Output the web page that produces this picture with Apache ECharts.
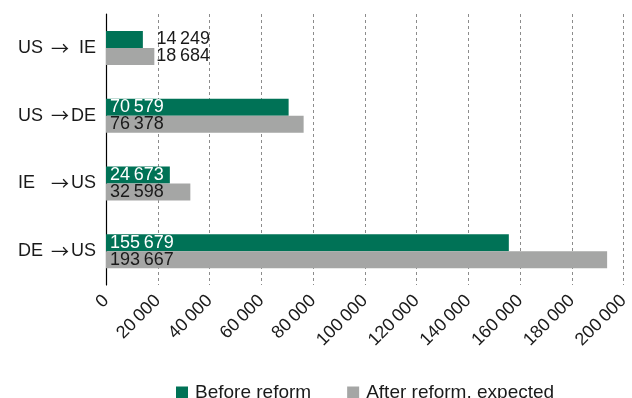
<!DOCTYPE html>
<html>
<head>
<meta charset="utf-8">
<script src="https://cdn.jsdelivr.net/npm/echarts@6/dist/echarts.min.js"></script>
<style>
  html, body { margin: 0; padding: 0; background: #fff; }
  #chart { width: 632px; height: 398px; }
</style>
</head>
<body>
<div id="chart"></div>
<script>
// Flows between countries, before and after the reform
const origins = ['US', 'US', 'IE', 'DE'];
const destinations = ['IE', 'DE', 'US', 'US'];
const routes = origins.map((o, i) => o + ' \u2192 ' + destinations[i]);
const beforeReform = [14249, 70579, 24673, 155679];
const afterReform = [18684, 76378, 32598, 193667];
const seriesNames = ['Before reform', 'After reform, expected'];

const GREEN = '#007256';
const GREY = '#a5a6a5';
const INK = '#1a1a1a';
const FONT = 'Liberation Sans, Arial, sans-serif';
const FS = 18;

// thousands separated by a thin space
function fmt(v) {
  return String(Math.round(v)).replace(/\B(?=(\d{3})+(?!\d))/g, '\u2009');
}

// Short pairs carry their labels to the right of the longer bar
const SHORT = 20000;
function buildData(values, other) {
  return values.map((v, i) => {
    const item = { value: v };
    const longer = Math.max(v, other[i]);
    if (longer < SHORT) {
      item.label = {
        position: 'right',
        color: INK,
        distance: 2 + (longer - v) * (520 / 200000)
      };
    }
    return item;
  });
}

// Route label: origin, arrow, destination in fixed columns
function routeLabel(value) {
  const parts = value.split(' \u2192 ');
  return '{l|' + parts[0] + '}{a|\u2192}{r|' + parts[1] + '}';
}

const chart = echarts.init(document.getElementById('chart'), null, { renderer: 'canvas' });
chart.setOption({
  animation: false,
  textStyle: { fontFamily: FONT },
  grid: { left: 106, right: 6, top: 14, bottom: 113, containLabel: false },
  legend: {
    top: 383,
    left: 176,
    padding: 0,
    itemWidth: 12,
    itemHeight: 12,
    itemGap: 36,
    icon: 'rect',
    textStyle: { fontSize: 19, color: INK, fontFamily: FONT, padding: [0, 0, 0, 2] },
    data: seriesNames
  },
  xAxis: {
    type: 'value',
    min: 0,
    max: 200000,
    interval: 20000,
    axisLine: { show: false },
    axisTick: { show: false },
    splitLine: { show: true, lineStyle: { type: [3, 3], color: '#8c8c8c', width: 1 } },
    axisLabel: {
      rotate: 45,
      margin: 13,
      fontSize: FS,
      color: INK,
      fontFamily: FONT,
      formatter: v => fmt(v)
    }
  },
  yAxis: {
    type: 'category',
    inverse: true,
    data: routes,
    axisLine: { show: true, lineStyle: { color: '#000', width: 1.2 } },
    axisTick: { show: false },
    axisLabel: {
      margin: 10,
      formatter: routeLabel,
      rich: {
        l: { fontSize: FS, color: INK, fontFamily: FONT, width: 31, align: 'left' },
        a: { fontSize: FS, color: INK, fontFamily: 'Noto Sans CJK SC', width: 22, align: 'center' },
        r: { fontSize: FS, color: INK, fontFamily: FONT, width: 25, align: 'right' }
      }
    }
  },
  series: [
    {
      name: seriesNames[0],
      type: 'bar',
      barWidth: 17,
      barGap: '0%',
      itemStyle: { color: GREEN },
      label: {
        show: true,
        position: 'insideLeft',
        distance: 4,
        color: '#fff',
        fontSize: FS,
        fontFamily: FONT,
        formatter: p => fmt(p.value)
      },
      data: buildData(beforeReform, afterReform)
    },
    {
      name: seriesNames[1],
      type: 'bar',
      barWidth: 17,
      barGap: '0%',
      itemStyle: { color: GREY },
      label: {
        show: true,
        position: 'insideLeft',
        distance: 4,
        color: INK,
        fontSize: FS,
        fontFamily: FONT,
        formatter: p => fmt(p.value)
      },
      data: buildData(afterReform, beforeReform)
    }
  ]
});
</script>
</body>
</html>
